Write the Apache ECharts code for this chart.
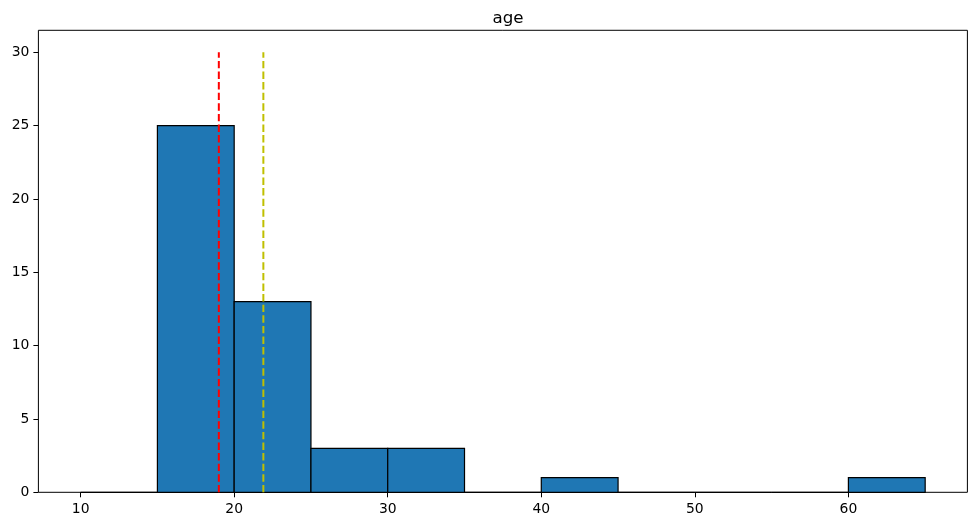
<!DOCTYPE html>
<html>
<head>
<meta charset="utf-8">
<script src="https://cdn.jsdelivr.net/npm/echarts@6/dist/echarts.min.js"></script>
<style>
html,body{margin:0;padding:0;background:#fff;}
#chart{width:977px;height:526px;}
</style>
</head>
<body>
<div id="chart"></div>
<script>
const binEdges = [10, 15, 20, 25, 30, 35, 40, 45, 50, 55, 60, 65];
const counts = [0, 25, 13, 3, 3, 0, 1, 0, 0, 0, 1];
const medianValue = 19;
const meanValue = 21.9;
const lineTop = 30;
const xTicks = [10, 20, 30, 40, 50, 60];
const yTicks = [0, 5, 10, 15, 20, 25, 30];
const titleText = 'age';

const barData = counts.map((c, i) => [binEdges[i], binEdges[i + 1], c]);
const font = 'DejaVu Sans';

const chart = echarts.init(document.getElementById('chart'));
chart.setOption({
  animation: false,
  title: {
    text: titleText,
    left: 503,
    textAlign: 'center',
    top: 5,
    textStyle: { fontFamily: font, fontSize: 16.7, fontWeight: 'normal', color: '#000' }
  },
  grid: {
    left: 38.4, top: 30.3, width: 929, height: 462,
    show: true, borderColor: '#000', borderWidth: 1, backgroundColor: 'transparent'
  },
  xAxis: {
    type: 'value', min: 7.25, max: 67.75,
    splitLine: { show: false },
    axisLine: { show: false },
    axisTick: { show: true, length: 5, lineStyle: { color: '#000', width: 1 }, customValues: xTicks },
    axisLabel: { margin: 10, color: '#000', fontFamily: font, fontSize: 13.9, customValues: xTicks }
  },
  yAxis: {
    type: 'value', min: 0, max: 31.5,
    splitLine: { show: false },
    axisLine: { show: false },
    axisTick: { show: true, length: 5, lineStyle: { color: '#000', width: 1 }, customValues: yTicks },
    axisLabel: { margin: 9, color: '#000', fontFamily: font, fontSize: 13.9, customValues: yTicks }
  },
  series: [
    {
      type: 'custom',
      data: barData,
      renderItem: function (params, api) {
        const p0 = api.coord([api.value(0), 0]);
        const p1 = api.coord([api.value(1), api.value(2)]);
        return {
          type: 'rect',
          shape: { x: p0[0], y: p1[1], width: p1[0] - p0[0], height: p0[1] - p1[1] },
          style: { fill: '#1f77b4', stroke: '#000', lineWidth: 1.2 }
        };
      },
      encode: { x: [0, 1], y: 2 },
      z: 2
    },
    {
      type: 'line',
      data: [[medianValue, 0], [medianValue, lineTop]],
      symbol: 'none',
      lineStyle: { color: '#ff0000', width: 2, type: [7.4, 3.2] },
      z: 3
    },
    {
      type: 'line',
      data: [[meanValue, 0], [meanValue, lineTop]],
      symbol: 'none',
      lineStyle: { color: '#bfbf00', width: 2, type: [7.4, 3.2] },
      z: 3
    }
  ]
});
</script>
</body>
</html>
